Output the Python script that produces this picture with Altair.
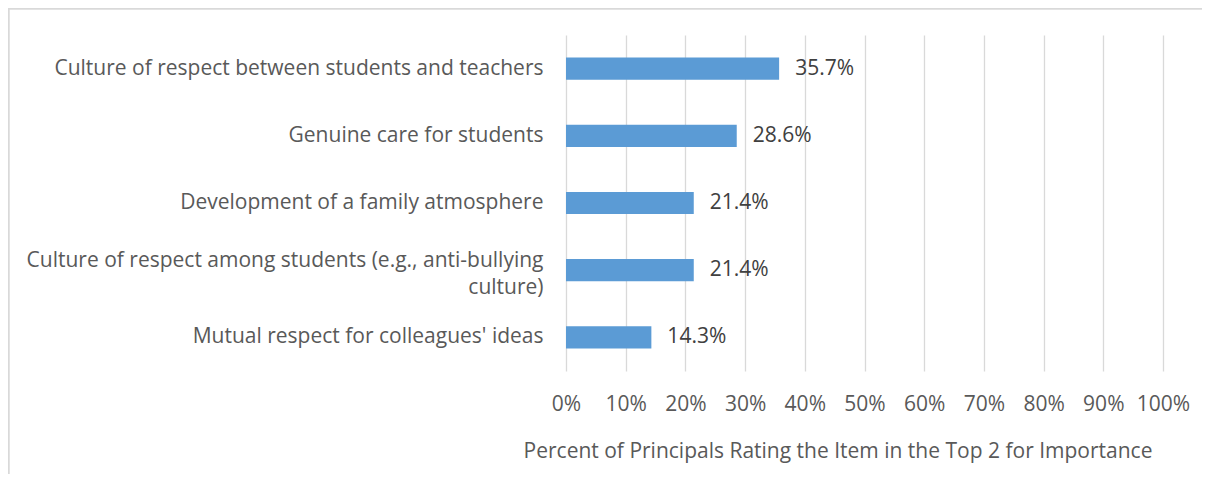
import altair as alt
import pandas as pd

categories = [
    "Culture of respect between students and teachers",
    "Genuine care for students",
    "Development of a family atmosphere",
    "Culture of respect among students (e.g., anti-bullying|culture)",
    "Mutual respect for colleagues' ideas",
]
values = [35.7, 28.6, 21.4, 21.4, 14.3]
value_labels = ["35.7%", "28.6%", "21.4%", "21.4%", "14.3%"]
x_ticks = [0, 10, 20, 30, 40, 50, 60, 70, 80, 90, 100]
x_title = "Percent of Principals Rating the Item in the Top 2 for Importance"

df = pd.DataFrame({"item": categories, "value": values, "label": value_labels})

FONT = "Open Sans"
FS = 21
W, H = 597, 336

y_enc = alt.Y(
    "item:N",
    sort=categories,
    title=None,
    scale=alt.Scale(paddingInner=0.67, paddingOuter=0.335),
    axis=alt.Axis(
        labelExpr="split(datum.label, '|')",
        labelLimit=0,
        labelPadding=23,
        labelOffset={"condition": {"test": "indexof(datum.value, '|') >= 0", "value": -9}, "value": 0},
        ticks=False,
        domain=False,
        grid=False,
        labelFont=FONT,
        labelFontSize=FS,
        labelColor="#595959",
        labelLineHeight=27,
    ),
)

x_enc = alt.X(
    "value:Q",
    scale=alt.Scale(domain=[0, 100], nice=False),
    title=x_title,
    axis=alt.Axis(
        values=x_ticks,
        labelExpr="datum.value + '%'",
        labelOverlap=False,
        labelFlush=False,
        ticks=False,
        domain=False,
        grid=True,
        gridColor="#D9D9D9",
        gridWidth=1.3,
        labelFont=FONT,
        labelFontSize=FS,
        labelColor="#595959",
        labelBaseline="middle",
        labelPadding=33,
        titleFont=FONT,
        titleFontSize=FS,
        titleFontWeight="normal",
        titleColor="#595959",
        titleX=271.5,
        titleY=80,
        titleBaseline="middle",
        titleAnchor="start",
        titleAlign="center",
    ),
)

bars = alt.Chart(df).mark_bar(color="#5B9BD5").encode(x=x_enc, y=y_enc)

text = alt.Chart(df).mark_text(
    align="left", baseline="middle", dx=16, font=FONT, fontSize=FS, color="#404040"
).encode(
    x=alt.X("value:Q"),
    y=alt.Y("item:N", sort=categories),
    text="label:N",
)

border_left = alt.Chart(df).mark_rule(color="#D9D9D9", strokeWidth=1.5, clip=False).encode(
    x=alt.value(-557.5), y=alt.value(-27), y2=alt.value(H + 103)
)
border_top = alt.Chart(df).mark_rule(color="#D9D9D9", strokeWidth=1.5, clip=False).encode(
    y=alt.value(-26.5), x=alt.value(-558), x2=alt.value(W + 39)
)

chart = (
    alt.layer(bars, text, border_left, border_top)
    .properties(
        width=W,
        height=H,
        autosize=alt.AutoSizeParams(type="none"),
        padding={"left": 558, "top": 27, "right": 39, "bottom": 103},
        view=alt.ViewBackground(strokeOpacity=0, strokeWidth=0),
    )
    .configure_view(strokeOpacity=0, strokeWidth=0)
    .configure(background="white")
)

chart.save("out.html", embed_options={"renderer": "svg", "actions": False})
